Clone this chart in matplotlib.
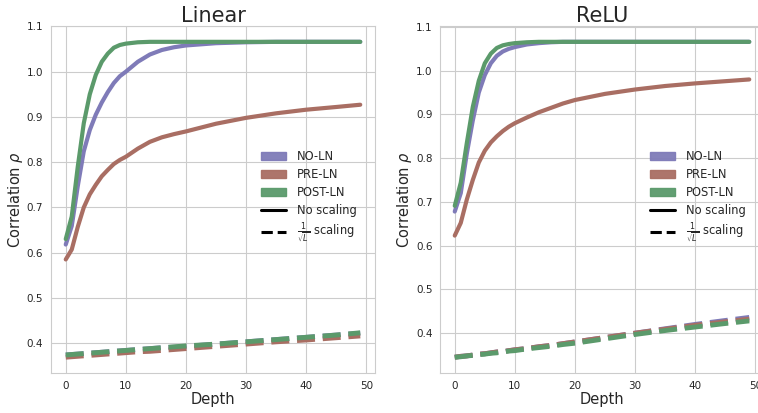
import matplotlib
matplotlib.use("Agg")
import matplotlib.pyplot as plt
import matplotlib.patches as mpatches
from matplotlib.lines import Line2D
import seaborn as sns

sns.set_style("whitegrid")
plt.rcParams['font.family'] = ['DejaVu Sans']

depth = [0, 1, 2, 3, 4, 5, 6, 7, 8, 9, 10, 12, 14, 16, 18, 20, 25, 30, 35, 40, 45, 49]

# Linear activation, no scaling
lin_no_ln = [0.618, 0.659, 0.747, 0.824, 0.871, 0.905, 0.932, 0.955, 0.975, 0.990, 1.000,
             1.022, 1.038, 1.048, 1.054, 1.058, 1.063, 1.065, 1.066, 1.066, 1.066, 1.066]
lin_pre_ln = [0.585, 0.607, 0.657, 0.700, 0.729, 0.750, 0.769, 0.783, 0.796, 0.805, 0.812,
              0.830, 0.845, 0.855, 0.862, 0.868, 0.885, 0.898, 0.908, 0.916, 0.922, 0.927]
lin_post_ln = [0.630, 0.680, 0.790, 0.886, 0.950, 0.993, 1.022, 1.040, 1.053, 1.059, 1.062,
               1.065, 1.066, 1.066, 1.066, 1.066, 1.066, 1.066, 1.066, 1.066, 1.066, 1.066]
# Linear activation, 1/sqrt(L) scaling
lin_no_ln_s = [0.374, 0.375, 0.376, 0.377, 0.378, 0.379, 0.380, 0.381, 0.382, 0.383, 0.384,
               0.386, 0.388, 0.390, 0.391, 0.393, 0.398, 0.403, 0.408, 0.413, 0.418, 0.422]
lin_pre_ln_s = [0.369, 0.370, 0.371, 0.372, 0.373, 0.374, 0.375, 0.376, 0.377, 0.378, 0.379,
                0.381, 0.382, 0.384, 0.386, 0.388, 0.393, 0.398, 0.403, 0.407, 0.412, 0.416]
lin_post_ln_s = [0.374, 0.375, 0.376, 0.377, 0.378, 0.379, 0.380, 0.381, 0.382, 0.383, 0.384,
                 0.386, 0.388, 0.390, 0.392, 0.394, 0.398, 0.403, 0.408, 0.413, 0.418, 0.423]

# ReLU activation, no scaling
relu_no_ln = [0.678, 0.720, 0.810, 0.886, 0.950, 0.990, 1.017, 1.034, 1.044, 1.050, 1.054,
              1.060, 1.063, 1.065, 1.066, 1.066, 1.066, 1.066, 1.066, 1.066, 1.066, 1.066]
relu_pre_ln = [0.623, 0.652, 0.705, 0.750, 0.790, 0.817, 0.836, 0.850, 0.862, 0.872, 0.880,
               0.893, 0.905, 0.915, 0.925, 0.933, 0.947, 0.957, 0.965, 0.971, 0.976, 0.980]
relu_post_ln = [0.691, 0.744, 0.834, 0.917, 0.977, 1.017, 1.039, 1.052, 1.058, 1.061, 1.063,
                1.065, 1.066, 1.066, 1.066, 1.066, 1.066, 1.066, 1.066, 1.066, 1.066, 1.066]
# ReLU activation, 1/sqrt(L) scaling
relu_no_ln_s = [0.345, 0.347, 0.348, 0.350, 0.352, 0.353, 0.355, 0.357, 0.358, 0.360, 0.362,
                0.365, 0.369, 0.372, 0.376, 0.380, 0.390, 0.400, 0.410, 0.420, 0.429, 0.436]
relu_pre_ln_s = [0.345, 0.347, 0.348, 0.350, 0.352, 0.353, 0.355, 0.357, 0.358, 0.360, 0.362,
                 0.365, 0.369, 0.372, 0.376, 0.380, 0.390, 0.400, 0.409, 0.418, 0.426, 0.432]
relu_post_ln_s = [0.345, 0.346, 0.348, 0.349, 0.351, 0.352, 0.354, 0.355, 0.357, 0.359, 0.360,
                  0.364, 0.367, 0.370, 0.374, 0.377, 0.387, 0.397, 0.406, 0.414, 0.422, 0.428]

names = ["NO-LN", "PRE-LN", "POST-LN"]
colors = ["#7f7bb8", "#a96e63", "#5b9a6b"]

panels = [
    ("Linear", [lin_no_ln, lin_pre_ln, lin_post_ln], [lin_no_ln_s, lin_pre_ln_s, lin_post_ln_s]),
    ("ReLU", [relu_no_ln, relu_pre_ln, relu_post_ln], [relu_no_ln_s, relu_pre_ln_s, relu_post_ln_s]),
]

fig = plt.figure(figsize=(7.58, 4.13), dpi=100)
rects = [[0.0673, 0.0969, 0.4274, 0.840], [0.5805, 0.0969, 0.4274, 0.840]]

for rect, (title, solid, dashed) in zip(rects, panels):
    ax = fig.add_axes(rect)
    for ys, c in zip(solid, colors):
        ax.plot(depth, ys, color=c, lw=3)
    for ys, c in zip(dashed, colors):
        ax.plot(depth, ys, color=c, lw=3.5, ls="--")
    ax.set_xticks([0, 10, 20, 30, 40, 50])
    ax.set_yticks([0.4, 0.5, 0.6, 0.7, 0.8, 0.9, 1.0, 1.1])
    ax.tick_params(labelsize=7.5, pad=2, colors="#262626")
    ax.set_title(title, fontsize=15, color="#262626", pad=3)
    ax.set_xlabel("Depth", fontsize=10.5, color="#262626", labelpad=1)
    ax.set_ylabel(r"Correlation $\rho$", fontsize=10.5, color="#262626", labelpad=1)

    handles = [mpatches.Patch(facecolor=c, edgecolor=c, alpha=0.95, label=n)
               for n, c in zip(names, colors)]
    handles.append(Line2D([], [], color="black", lw=2.2, label="No scaling"))
    handles.append(Line2D([], [], color="black", lw=2.2, ls="--",
                          label=r"$\frac{1}{\sqrt{L}}$ scaling"))
    ax.legend(handles=handles, loc="center right", bbox_to_anchor=(0.975, 0.505),
              frameon=False, fontsize=8.3, handlelength=2.2, labelspacing=0.42,
              handletextpad=0.9)

fig.savefig("out.png", dpi=100)
